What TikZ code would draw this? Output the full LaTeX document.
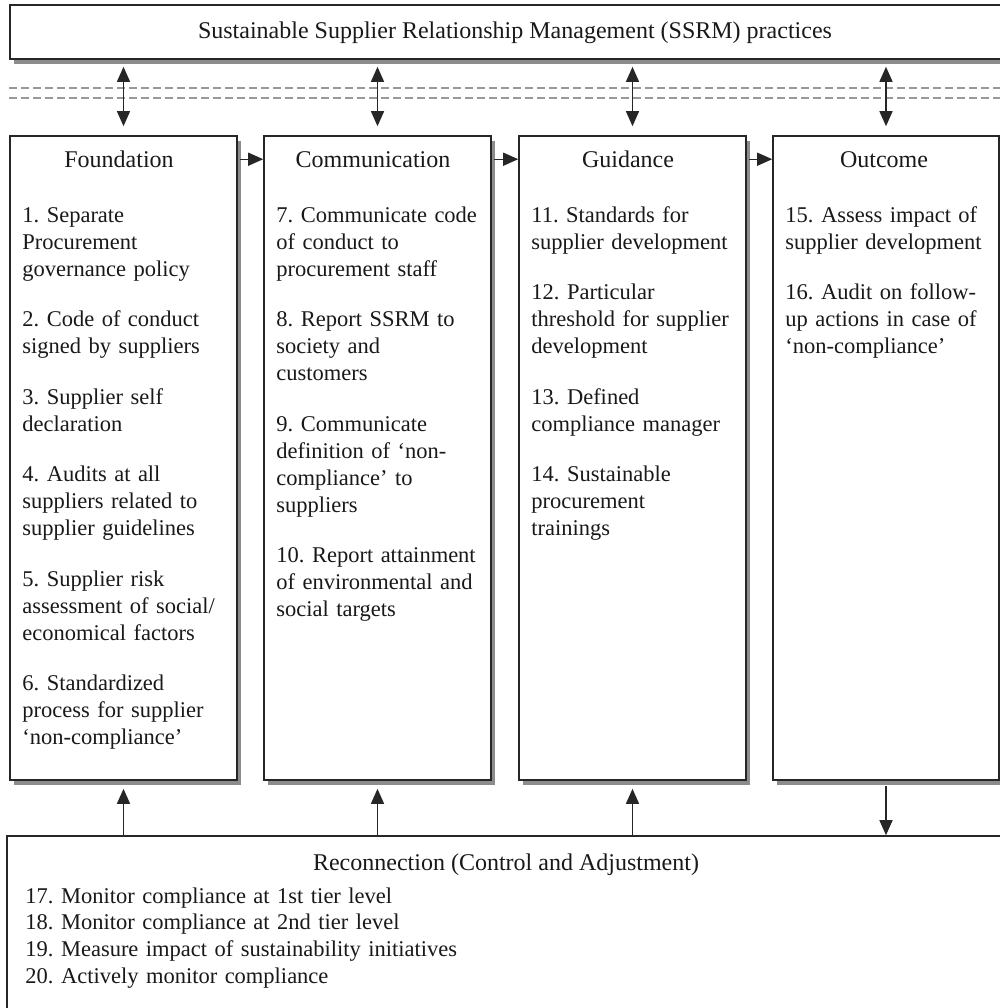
\documentclass[tikz,border=0pt]{standalone}
\usepackage{fontspec}
\setmainfont{Liberation Serif}
\usetikzlibrary{arrows.meta,fit,shadows,calc}
\frenchspacing

\tikzset{
  frame/.style={draw=black!85, line width=0.8pt, fill=white, inner sep=0pt,
    drop shadow={shadow xshift=2.2pt, shadow yshift=-2.4pt, fill=black!50, opacity=0.9}},
  plainframe/.style={draw=black!85, line width=0.8pt, fill=white, inner sep=0pt},
  txt/.style={font=\fontsize{11.25}{13.5}\selectfont, inner sep=0pt, text=black!90},
  items/.style={txt, text width=112pt, align=left, anchor=base west},
  heading/.style={txt, anchor=base, font=\fontsize{12}{14}\selectfont},
  arr/.style={-{Triangle[length=7.5pt,width=6.5pt]}, line width=0.7pt, draw=black!85},
  dbl/.style={{Triangle[length=7.5pt,width=6.5pt]}-{Triangle[length=7.5pt,width=6.5pt]}, line width=0.7pt, draw=black!85},
  dashline/.style={draw=black!40, line width=0.55pt, dash pattern=on 4pt off 2pt}
}

\begin{document}
\begin{tikzpicture}[x=0.5pt,y=-0.5pt]
\useasboundingbox (0,0) rectangle (1000,1008);
\clip (0,0) rectangle (1000,1008);

% top practices bar
\node[frame, fit={(10,5) (1020,59)}] (ssrm) {};
\node[heading] (ssrmtext) at (515,38) {Sustainable Supplier Relationship Management (SSRM) practices};

% dashed separator
\draw[dashline] (9,88) -- (1000,88);
\draw[dashline] (9,98) -- (1000,98);

% four stage columns
\node[frame, fit={(10,136) (237,780)}]  (found) {};
\node[frame, fit={(264,136) (491,780)}] (comm)  {};
\node[frame, fit={(519,136) (746,780)}] (guide) {};
\node[frame, fit={(773,136) (999,780)}] (outc)  {};

% bottom control bar
\node[plainframe, fit={(7,836) (1020,1020)}] (recon) {};

% column headings
\node[heading] (hfound) at (119,167) {Foundation};
\node[heading] (hcomm)  at (373,167) {Communication};
\node[heading] (hguide) at (628,167) {Guidance};
\node[heading] (houtc)  at (884,167) {Outcome};

% column contents
\node[items] (lfound) at (22,222) {1. Separate\\Procurement\\governance policy\\[11.75pt]
2. Code of conduct\\signed by suppliers\\[11.75pt]
3. Supplier self\\declaration\\[11.75pt]
4. Audits at all\\suppliers related to\\supplier guidelines\\[11.75pt]
5. Supplier risk\\assessment of social/\\economical factors\\[11.75pt]
6. Standardized\\process for supplier\\‘non-compliance’};

\node[items] (lcomm) at (276,222) {7. Communicate code\\of conduct to\\procurement staff\\[11.75pt]
8. Report SSRM to\\society and\\customers\\[11.75pt]
9. Communicate\\definition of ‘non-\\compliance’ to\\suppliers\\[11.75pt]
10. Report attainment\\of environmental and\\social targets};

\node[items] (lguide) at (531,222) {11. Standards for\\supplier development\\[11.75pt]
12. Particular\\threshold for supplier\\development\\[11.75pt]
13. Defined\\compliance manager\\[11.75pt]
14. Sustainable\\procurement\\trainings};

\node[items] (loutc) at (785,222) {15. Assess impact of\\supplier development\\[11.75pt]
16. Audit on follow-\\up actions in case of\\‘non-compliance’};

% control bar contents
\node[heading] (hrecon) at (506,870) {Reconnection (Control and Adjustment)};
\node[txt, text width=400pt, align=left, anchor=base west,
      font=\fontsize{11.25}{13.35}\selectfont] (lrecon) at (25,903)
  {17. Monitor compliance at 1st tier level\\
   18. Monitor compliance at 2nd tier level\\
   19. Measure impact of sustainability initiatives\\
   20. Actively monitor compliance};

% two-way links between practices and stages
\foreach \c in {found,comm,guide,outc}
  \draw[dbl, shorten <=3.5pt, shorten >=4.5pt] (\c.north |- ssrm.south) -- (\c.north);

% stage sequence
\foreach \a/\b in {found/comm,comm/guide,guide/outc}{
  \coordinate (\a-out) at ($(\a.north east)+(2.5,24)$);
  \draw[arr] (\a-out) -- (\a-out -| \b.west);
}

% feedback from the control bar
\foreach \c in {found,comm,guide}
  \draw[arr, shorten >=4pt] (\c.south |- recon.north) -- (\c.south);
\draw[arr, shorten <=2.5pt] (outc.south) -- (outc.south |- recon.north);

\end{tikzpicture}
\end{document}
